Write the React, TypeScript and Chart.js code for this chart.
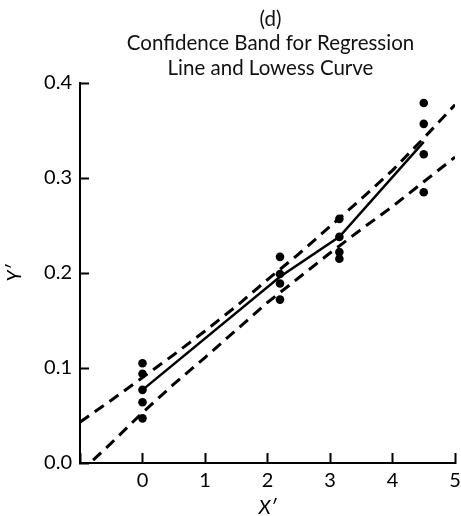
import React, { useEffect, useRef } from "react";
import { Chart, registerables } from "chart.js";

Chart.register(...registerables);

// Observed points (X', Y')
const pointX = [0, 0, 0, 0, 0, 2.2, 2.2, 2.2, 2.2, 3.15, 3.15, 3.15, 3.15, 4.5, 4.5, 4.5, 4.5];
const pointY = [0.105, 0.094, 0.077, 0.064, 0.047, 0.217, 0.199, 0.189, 0.172, 0.257, 0.238, 0.222, 0.215, 0.379, 0.357, 0.325, 0.285];

// Confidence band
const bandX = [-1, -0.5, 0, 0.5, 1, 1.5, 2, 2.5, 3, 3.5, 4, 4.5, 5];
const bandUpper = [0.043, 0.066, 0.09, 0.114, 0.139, 0.165, 0.193, 0.22, 0.249, 0.278, 0.308, 0.342, 0.377];
const bandLower = [-0.01, 0.021, 0.053, 0.083, 0.111, 0.14, 0.169, 0.195, 0.221, 0.246, 0.27, 0.296, 0.322];

// Lowess curve
const lowessX = [0, 2.2, 3.15, 4.5];
const lowessY = [0.077, 0.196, 0.238, 0.338];

const xTicks = [-1, 0, 1, 2, 3, 4, 5];
const yTicks = [0, 0.1, 0.2, 0.3, 0.4];
const titleLines = ["(d)", "Confidence Band for Regression", "Line and Lowess Curve"];
const xTitle = "X\u2032";
const yTitle = "Y\u2032";

const FONT = "Lato";

const zip = (xs: number[], ys: number[]) => xs.map((x, i) => ({ x, y: ys[i] }));

const titlePlugin = {
  id: "titleLines",
  afterDraw(chart: any) {
    const ctx: CanvasRenderingContext2D = chart.ctx;
    const area = chart.chartArea;
    ctx.save();
    ctx.fillStyle = "#111";
    ctx.textAlign = "center";
    ctx.textBaseline = "alphabetic";
    ctx.font = `20.5px ${FONT}`;
    const cx = (area.left + area.right) / 2 + 3;
    const baselines = [26, 50, 75];
    titleLines.forEach((t, i) => ctx.fillText(t, cx, baselines[i]));
    ctx.restore();
  },
};

export default function App() {
  const ref = useRef<HTMLCanvasElement>(null);
  useEffect(() => {
    document.body.style.margin = "0";
    const canvas = ref.current!;
    const chart = new Chart(canvas, {
      type: "scatter",
      data: {
        datasets: [
          {
            type: "line",
            data: zip(bandX, bandUpper),
            borderColor: "#000",
            borderWidth: 3,
            borderDash: [11, 7],
            pointRadius: 0,
            fill: false,
            tension: 0,
          },
          {
            type: "line",
            data: zip(bandX, bandLower),
            borderColor: "#000",
            borderWidth: 3,
            borderDash: [11, 7],
            pointRadius: 0,
            fill: false,
            tension: 0,
          },
          {
            type: "line",
            data: zip(lowessX, lowessY),
            borderColor: "#000",
            borderWidth: 2.5,
            pointRadius: 0,
            fill: false,
            tension: 0,
          },
          {
            type: "scatter",
            data: zip(pointX, pointY),
            backgroundColor: "#000",
            borderColor: "#000",
            pointRadius: 4.3,
            borderWidth: 0,
          },
        ],
      },
      options: {
        animation: false,
        responsive: false,
        maintainAspectRatio: false,
        layout: { padding: { top: 83, right: 6, left: 0, bottom: 0 } },
        plugins: { legend: { display: false }, tooltip: { enabled: false }, title: { display: false } },
        scales: {
          x: {
            type: "linear",
            min: -1,
            max: 5,
            grid: {
              display: true,
              drawOnChartArea: false,
              drawTicks: true,
              tickLength: -10,
              tickWidth: 2,
              tickColor: "#000",
              color: "#000",
            },
            border: { display: true, color: "#000", width: 2 },
            afterFit: (s: any) => {
              s.height = 53;
              s.paddingLeft = 0;
              s.paddingRight = 0;
            },
            afterBuildTicks: (s: any) => {
              s.ticks = xTicks.map((v) => ({ value: v }));
            },
            ticks: {
              color: "#000",
              font: { family: FONT, size: 20 },
              padding: 16,
              maxRotation: 0,
              autoSkip: false,
              callback: (v: any) => (v < 0 ? "" : String(v)),
            },
            title: {
              display: true,
              text: xTitle,
              color: "#000",
              font: { family: FONT, size: 20, style: "italic", lineHeight: 0.8 },
              padding: { top: 0, bottom: 0 },
            },
          },
          y: {
            type: "linear",
            min: 0,
            max: 0.4,
            grid: {
              display: true,
              drawOnChartArea: false,
              drawTicks: true,
              tickLength: -9,
              tickWidth: 2,
              tickColor: "#000",
              color: "#000",
            },
            border: { display: true, color: "#000", width: 2 },
            afterFit: (s: any) => {
              s.width = 80;
              s.paddingTop = 0;
              s.paddingBottom = 0;
            },
            afterBuildTicks: (s: any) => {
              s.ticks = yTicks.map((v) => ({ value: v }));
            },
            ticks: {
              color: "#000",
              font: { family: FONT, size: 20 },
              padding: 17,
              callback: (v: any) => Number(v).toFixed(1),
            },
            title: {
              display: true,
              text: yTitle,
              color: "#000",
              font: { family: FONT, size: 19, style: "italic", lineHeight: 1.2 },
              padding: { top: 3, bottom: 0 },
            },
          },
        },
      },
      plugins: [titlePlugin],
    } as any);
    return () => chart.destroy();
  }, []);
  return (
    <div style={{ width: 461, height: 516 }}>
      <canvas ref={ref} width={461} height={516} style={{ display: "block", width: 461, height: 516 }} />
    </div>
  );
}
